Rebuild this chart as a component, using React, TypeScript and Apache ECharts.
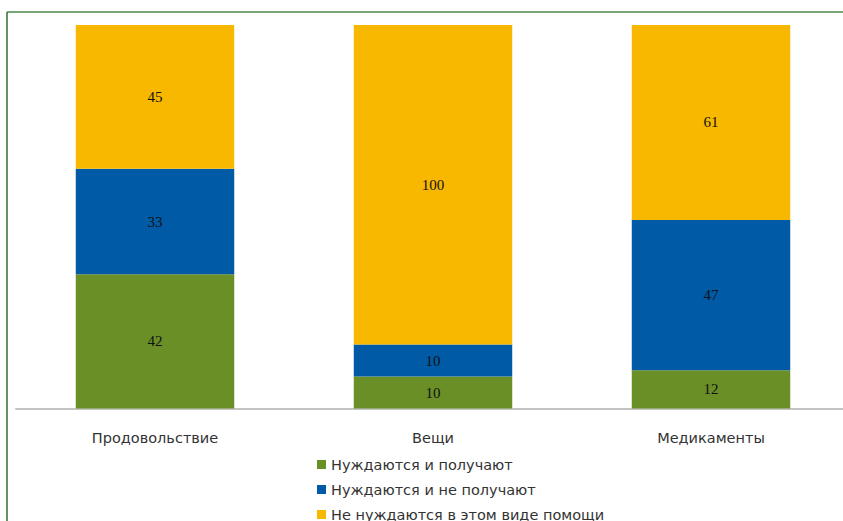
import React, { useEffect, useRef } from "react";
import * as echarts from "echarts";

const categories = ["Продовольствие", "Вещи", "Медикаменты"];
const seriesNames = [
  "Нуждаются и получают",
  "Нуждаются и не получают",
  "Не нуждаются в этом виде помощи",
];
const needReceive = [42, 10, 12];
const needNotReceive = [33, 10, 47];
const noNeed = [45, 100, 61];
const colors = ["#6a8f26", "#005aa5", "#f8b800"];

export default function App() {
  const ref = useRef<HTMLDivElement>(null);
  useEffect(() => {
    if (!ref.current) return;
    const chart = echarts.init(ref.current, null, { renderer: "svg" });
    const values = [needReceive, needNotReceive, noNeed];
    chart.setOption({
      animation: false,
      backgroundColor: "#ffffff",
      grid: { left: 16, right: 0, top: 25, bottom: 112.5 },
      xAxis: {
        type: "category",
        data: categories,
        axisLine: { lineStyle: { color: "#c4c4c4", width: 2 } },
        axisTick: { show: false },
        axisLabel: {
          color: "#333333",
          fontSize: 14.5,
          fontFamily: "DejaVu Sans, Verdana, sans-serif",
          margin: 22,
        },
      },
      yAxis: {
        type: "value",
        min: 0,
        max: 120,
        show: false,
        splitLine: { show: false },
      },
      legend: {
        orient: "vertical",
        left: 312,
        top: 452,
        height: 200,
        itemWidth: 9,
        itemHeight: 9,
        itemGap: 10,
        icon: "rect",
        textStyle: {
          color: "#333333",
          fontSize: 14.5,
          fontFamily: "DejaVu Sans, Verdana, sans-serif",
        },
        data: seriesNames,
      },
      graphic: [
        {
          type: "line",
          shape: { x1: 7, y1: 12, x2: 850, y2: 12 },
          style: { stroke: "#4a8a4a", lineWidth: 1.5 },
        },
        {
          type: "line",
          shape: { x1: 7, y1: 12, x2: 7, y2: 521 },
          style: { stroke: "#2f6f2f", lineWidth: 1.5 },
        },
      ],
      series: seriesNames.map((name, i) => ({
        name,
        type: "bar",
        stack: "total",
        barWidth: "57%",
        data: values[i],
        itemStyle: { color: colors[i] },
        label: {
          show: true,
          position: "inside",
          color: "#111111",
          fontSize: 15,
          fontFamily: "Liberation Serif, Times New Roman, serif",
        },
      })),
    });
    return () => chart.dispose();
  }, []);
  return (
    <div
      style={{
        position: "absolute",
        left: 0,
        top: 0,
        width: 843,
        height: 521,
        overflow: "hidden",
      }}
    >
      <div ref={ref} style={{ width: 850, height: 521 }} />
    </div>
  );
}
